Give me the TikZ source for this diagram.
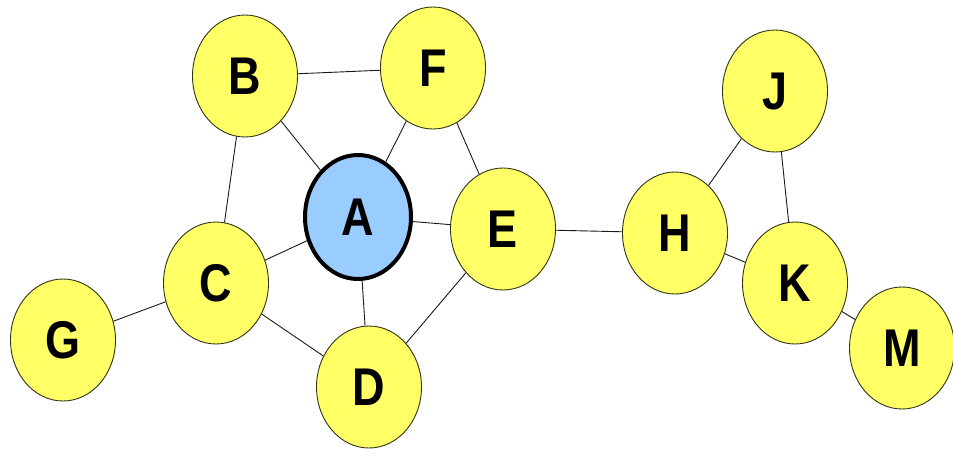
\documentclass[tikz,border=0pt]{standalone}
\usepackage{fontspec}
\setmainfont{Liberation Sans}
\usepackage{graphicx}
\usetikzlibrary{shapes.geometric}
\definecolor{nodeyellow}{RGB}{255,255,102}
\definecolor{nodeblue}{RGB}{153,204,255}
\definecolor{rimdark}{RGB}{50,50,20}
\newcommand{\tall}[1]{\scalebox{1}[1.18]{#1}}

\begin{document}
\begin{tikzpicture}[x=1pt,y=-1pt]
                  \tikzstyle{every vertex}=[ellipse,fill=nodeyellow,draw=rimdark,line width=0.9pt,
                        minimum width=105pt,minimum height=122pt,inner sep=0pt,
                        font=\fontsize{45}{45}\selectfont\bfseries]
                  \useasboundingbox (0,0) rectangle (953,453);

                  \node[every vertex,fill=nodeblue,draw=black,line width=4pt,
                        minimum width=106pt,minimum height=124pt] (A) at (358,217) {\tall{A}};
                  \node[every vertex]                        (B) at (245,76)  {\tall{B}};
                  \node[every vertex]                        (C) at (216,283) {\tall{C}};
                  \node[every vertex]                        (D) at (369,387) {\tall{D}};
                  \node[every vertex]                        (E) at (503,229) {\tall{E}};
                  \node[every vertex]                        (F) at (433,68)  {\tall{F}};
                  \node[every vertex]                        (G) at (63,340)  {\tall{G}};
                  \node[every vertex]                        (H) at (675,233) {\tall{H}};
                  \node[every vertex]                        (J) at (775,91)  {\tall{J}};
                  \node[every vertex]                        (K) at (795,283) {\tall{K}};
                  \node[every vertex]                        (M) at (902,348) {\tall{M}};

                  \path[draw=black!90,line width=0.9pt]
                        (B) edge (F)
                        (B) edge (A)
                        (B) edge (C)
                        (F) edge (A)
                        (F) edge (E)
                        (A) edge (E)
                        (A) edge (C)
                        (A) edge (D)
                        (C) edge (G)
                        (C) edge (D)
                        (D) edge (E)
                        (E) edge (H)
                        (H) edge (J)
                        (H) edge (K)
                        (J) edge (K)
                        (K) edge (M);
                \end{tikzpicture}
\end{document}
